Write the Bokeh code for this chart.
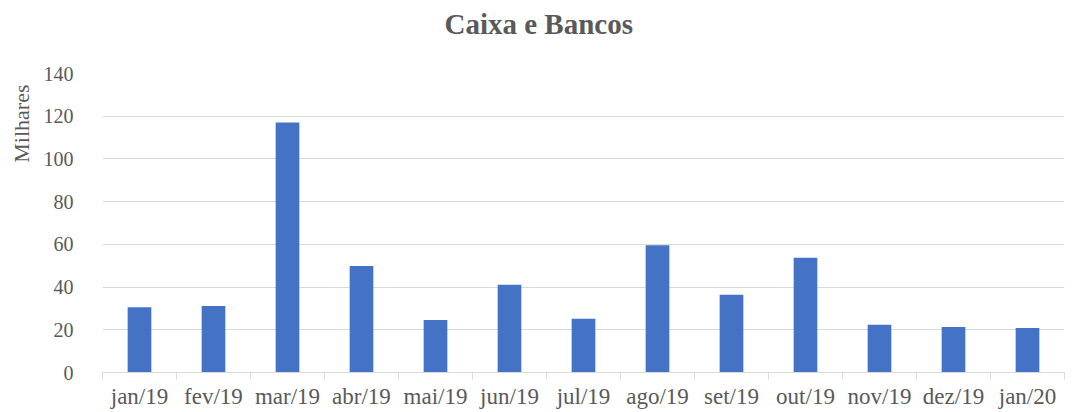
from bokeh.plotting import figure
from bokeh.models import FixedTicker, Range1d, ColumnDataSource, LinearAxis, Title
from bokeh.embed import file_html
from bokeh.resources import INLINE

categories = ["jan/19", "fev/19", "mar/19", "abr/19", "mai/19", "jun/19", "jul/19",
              "ago/19", "set/19", "out/19", "nov/19", "dez/19", "jan/20"]
values = [30.5, 31.1, 117.0, 49.9, 24.6, 41.1, 25.2, 59.6, 36.4, 53.7, 22.3, 21.3, 20.8]
y_ticks = [0, 20, 40, 60, 80, 100, 120, 140]

n = len(categories)
centers = [i + 0.5 for i in range(n)]
bounds = list(range(n + 1))

FONT = "Liberation Serif"
GRAY = "#595959"

p = figure(frame_width=962, frame_height=299, output_backend="svg", toolbar_location=None,
           x_range=Range1d(0, n), y_range=Range1d(0, 140),
           min_border_left=101, min_border_right=8, min_border_top=71, min_border_bottom=40,
           title=None)
p.outline_line_color = None
p.background_fill_color = "white"
p.border_fill_color = "white"

# x axis (below)
xax = p.below[0]
xax.ticker = FixedTicker(ticks=centers, minor_ticks=bounds)
xax.major_label_overrides = {c: lab for c, lab in zip(centers, categories)}
xax.major_tick_line_color = None
xax.major_tick_in = 0
xax.major_tick_out = 0
xax.minor_tick_line_color = "#d9d9d9"
xax.minor_tick_in = 0
xax.minor_tick_out = 7
xax.axis_line_color = "#d9d9d9"
xax.major_label_text_font = FONT
xax.major_label_text_font_size = "23px"
xax.major_label_text_color = GRAY
xax.major_label_standoff = 4
p.xgrid.grid_line_color = None

# invisible spacer between frame and title
spacer = LinearAxis(ticker=FixedTicker(ticks=[centers[0]]), axis_line_color=None,
                    major_tick_line_color=None, minor_tick_line_color=None,
                    major_tick_in=0, major_tick_out=29, minor_tick_in=0, minor_tick_out=0,
                    major_label_overrides={centers[0]: ""},
                    major_label_text_font_size="0px")
p.add_layout(spacer, "above")

title = Title(text="Caixa e Bancos", align="left", offset=342, standoff=10,
              text_font=FONT, text_font_size="29px", text_font_style="bold", text_color=GRAY)
p.add_layout(title, "above")

src = ColumnDataSource(dict(x=centers, top=values))
p.vbar(x="x", top="top", width=0.32, bottom=0, source=src, fill_color="#4472C4", line_color=None)

# y axis
yax = p.left[0]
yax.ticker = FixedTicker(ticks=y_ticks)
yax.axis_line_color = None
yax.major_tick_line_color = None
yax.major_tick_in = 0
yax.major_tick_out = 0
yax.minor_tick_line_color = None
yax.major_label_text_font = FONT
yax.major_label_text_font_size = "20px"
yax.major_label_text_color = GRAY
yax.major_label_standoff = 29
p.ygrid.grid_line_color = "#d9d9d9"
p.ygrid.grid_line_width = 1

ylabel = Title(text="Milhares", align="right", offset=11, standoff=13,
               text_font=FONT, text_font_size="22px", text_font_style="normal", text_color=GRAY)
p.add_layout(ylabel, "left")

open("out.html", "w").write(file_html(p, INLINE))
